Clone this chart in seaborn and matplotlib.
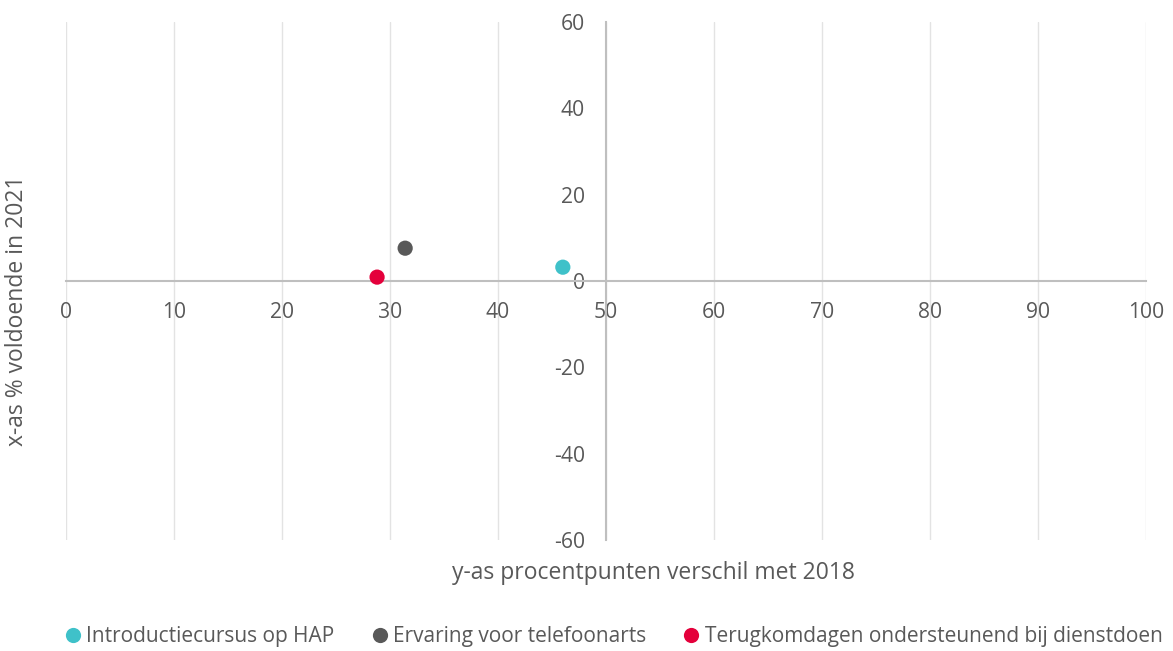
import matplotlib
matplotlib.use("Agg")
import matplotlib.pyplot as plt
import pandas as pd
import seaborn as sns

# data
reeksen = ["Introductiecursus op HAP", "Ervaring voor telefoonarts",
           "Terugkomdagen ondersteunend bij dienstdoen"]
x_waarden = [46.0, 31.4, 28.8]
y_waarden = [3.2, 7.6, 0.9]
kleuren = ["#3FC1C9", "#595959", "#E4003B"]
x_ticks = list(range(0, 101, 10))
y_ticks = list(range(-60, 61, 20))

df = pd.DataFrame({"reeks": reeksen, "x": x_waarden, "y": y_waarden})

sns.set_style("white")
plt.rcParams['font.family'] = ['Open Sans', 'DejaVu Sans']
plt.rcParams['axes.unicode_minus'] = False
tekstkleur = "#595959"

fig = plt.figure(figsize=(11.73, 6.51), dpi=100)
ax = fig.add_axes([0.0563, 0.1705, 0.9207, 0.7957])

sns.scatterplot(data=df, x="x", y="y", hue="reeks", palette=kleuren,
                s=120, edgecolor="none", ax=ax, zorder=5, legend=True)

ax.set_xlim(0, 100)
ax.set_ylim(-60, 60)
ax.set_xticks(x_ticks)
ax.set_yticks(y_ticks)

# vertical gridlines only
ax.grid(axis="x", color="#e3e3e3", linewidth=1)
ax.grid(axis="y", visible=False)
ax.set_axisbelow(True)

# axes cross in the middle, like the Excel chart
for kant in ["top", "right"]:
    ax.spines[kant].set_visible(False)
ax.spines["left"].set_position(("data", 50))
ax.spines["bottom"].set_position(("data", 0))
for kant in ["left", "bottom"]:
    ax.spines[kant].set_color("#bfbfbf")
    ax.spines[kant].set_linewidth(1.5)
    ax.spines[kant].set_zorder(2)

ax.tick_params(axis="both", length=0, pad=15, labelsize=15.2, labelcolor=tekstkleur)

ax.set_xlabel("y-as procentpunten verschil met 2018", fontsize=16.5, color=tekstkleur)
ax.set_ylabel("x-as % voldoende in 2021", fontsize=16.5, color=tekstkleur)
ax.xaxis.set_label_coords(0.5435, -0.04)
ax.yaxis.set_label_coords(-0.034, 0.442)

handles, labels = ax.get_legend_handles_labels()
ax.get_legend().remove()
fig.legend(handles, labels, loc="center", bbox_to_anchor=(0.5235, 0.022), ncol=3,
           frameon=False, fontsize=15, handlelength=0.7, handletextpad=0.3,
           columnspacing=1.8, labelcolor=tekstkleur, borderaxespad=0)

fig.savefig("out.png", dpi=100)
